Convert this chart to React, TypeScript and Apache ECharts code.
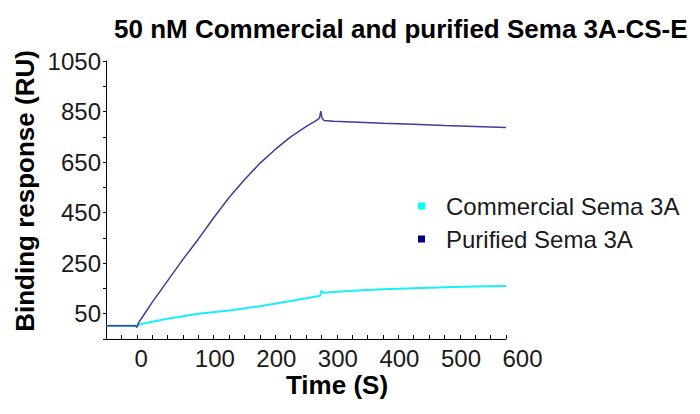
import React, { useEffect, useRef } from "react";
import * as echarts from "echarts";

const titleText = "50 nM Commercial and purified Sema 3A-CS-E";
const yAxisTitle = "Binding response (RU)";
const xAxisTitle = "Time (S)";
const seriesNames = ["Commercial Sema 3A", "Purified Sema 3A"];

const xLabelValues = [0, 100, 200, 300, 400, 500, 600];
const yTickValues = [-50, 50, 150, 250, 350, 450, 550, 650, 750, 850, 950, 1050];
const yLabelValues = [50, 250, 450, 650, 850, 1050];

const commercialTime = [-50, -20, -2, 0, 5, 25, 50, 100, 150, 200, 250, 280, 296, 298, 300, 303, 320, 350, 400, 450, 500, 550, 600];
const commercialRU = [2, 2, 2, 0, 8, 18, 30, 50, 63, 80, 100, 113, 120, 121, 141, 133, 136, 141, 147, 151, 155, 158, 160];

const purifiedTime = [-50, -20, -2, 0, 3, 10, 25, 50, 75, 100, 125, 150, 175, 200, 225, 250, 275, 290, 297, 299, 301, 304, 320, 350, 400, 450, 500, 550, 600];
const purifiedRU = [2, 2, 2, -4, 15, 40, 95, 180, 265, 345, 430, 510, 580, 645, 700, 750, 790, 812, 824, 852, 825, 815, 812, 809, 804, 800, 795, 791, 787];

const FONT = "'Liberation Sans', Arial, sans-serif";

export default function App() {
  const ref = useRef<HTMLDivElement>(null);
  useEffect(() => {
    if (!ref.current) return;
    const chart = echarts.init(ref.current, null, { renderer: "svg" });
    const commercialData = commercialTime.map((t, i) => [t, commercialRU[i]]);
    const purifiedData = purifiedTime.map((t, i) => [t, purifiedRU[i]]);
    chart.setOption({
      animation: false,
      backgroundColor: "#ffffff",
      title: {
        text: titleText,
        left: 109,
        top: 11,
        textStyle: { fontFamily: FONT, fontSize: 26, fontWeight: "bold", color: "#000" },
      },
      grid: { left: 106, right: 194, top: 61, bottom: 75, containLabel: false },
      legend: {
        orient: "vertical",
        left: 413,
        top: 189,
        icon: "rect",
        itemWidth: 7,
        itemHeight: 7,
        itemGap: 9,
        data: seriesNames,
        textStyle: { fontFamily: FONT, fontSize: 24, color: "#1a1a1a", padding: [0, 0, 0, 16] },
      },
      xAxis: {
        type: "value",
        min: -50,
        max: 600,
        interval: 25,
        splitLine: { show: false },
        axisLine: { onZero: false, lineStyle: { color: "#000", width: 1 } },
        axisTick: { show: true, inside: true, length: 4, lineStyle: { color: "#000" } },
        axisLabel: {
          customValues: xLabelValues,
          margin: 7,
          color: "#1a1a1a",
          fontFamily: FONT,
          fontSize: 24,
          formatter: (v: number) => (v === 0 ? `{z|${v}}` : `{n|${v}}`),
          rich: {
            z: { fontFamily: FONT, fontSize: 24, color: "#1a1a1a", padding: [0, 0, 0, 9] },
            n: { fontFamily: FONT, fontSize: 24, color: "#1a1a1a", padding: [0, 0, 0, 33] },
          },
        },
      },
      yAxis: {
        type: "value",
        min: -50,
        max: 1050,
        splitLine: { show: false },
        axisLine: { show: true, onZero: false, lineStyle: { color: "#000", width: 1 } },
        axisTick: { show: true, customValues: yTickValues, length: 3, lineStyle: { color: "#000" } },
        axisLabel: {
          customValues: yLabelValues,
          margin: 5,
          color: "#1a1a1a",
          fontFamily: FONT,
          fontSize: 24,
          formatter: (v: number) => String(v),
        },
      },
      graphic: [
        {
          type: "text",
          x: 25,
          y: 191,
          rotation: Math.PI / 2,
          style: {
            text: yAxisTitle,
            font: `bold 26px ${FONT}`,
            fill: "#000",
            align: "center",
            verticalAlign: "middle",
          },
        },
        {
          type: "text",
          x: 337,
          y: 385,
          style: {
            text: xAxisTitle,
            font: `bold 26px ${FONT}`,
            fill: "#000",
            align: "center",
            verticalAlign: "middle",
          },
        },
      ],
      series: [
        {
          name: seriesNames[0],
          type: "line",
          data: commercialData,
          showSymbol: false,
          symbol: "none",
          itemStyle: { color: "#00ffff" },
          lineStyle: { color: "#19f0f5", width: 2 },
        },
        {
          name: seriesNames[1],
          type: "line",
          data: purifiedData,
          showSymbol: false,
          symbol: "none",
          itemStyle: { color: "#000080" },
          lineStyle: { color: "#3d3d9e", width: 1.5 },
        },
      ],
    });
    return () => chart.dispose();
  }, []);
  return (
    <div
      ref={ref}
      style={{ position: "fixed", left: 0, top: 0, width: 700, height: 414, background: "#fff" }}
    />
  );
}
